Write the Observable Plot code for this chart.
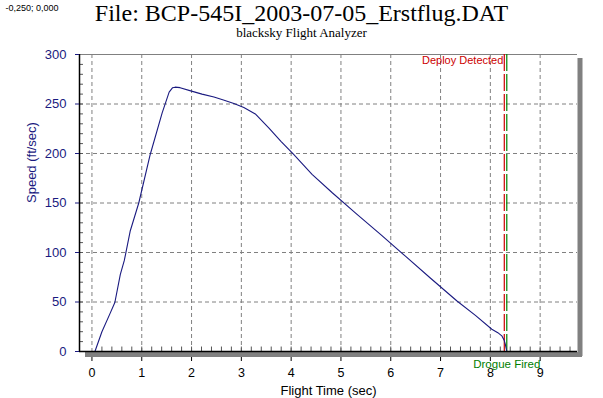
<!DOCTYPE html>
<html>
<head>
<meta charset="utf-8">
<script src="https://cdn.jsdelivr.net/npm/d3@7"></script>
<script src="https://cdn.jsdelivr.net/npm/@observablehq/plot@0.6"></script>
<style>
  html, body { margin: 0; padding: 0; background: #fff; }
  #chart { width: 603px; height: 398px; }
</style>
</head>
<body>
<div id="chart"></div>
<script>
// ---- Data ----
const titleText = "File: BCP-545I_2003-07-05_Erstflug.DAT";
const subtitleText = "blacksky Flight Analyzer";
const cornerText = "-0,250; 0,000";
const xLabel = "Flight Time (sec)";
const yLabel = "Speed (ft/sec)";

const flightTime = [0.06, 0.2, 0.36, 0.46, 0.57, 0.65, 0.77, 0.94, 1.17, 1.41, 1.55, 1.62, 1.67, 1.77, 2.0, 2.21, 2.45, 2.64, 2.85, 3.05, 3.28, 3.55, 3.8, 4.05, 4.42, 4.82, 5.3, 5.8, 6.3, 6.8, 7.33, 7.7, 8.03, 8.15, 8.23, 8.28, 8.3, 8.33];
const speed      = [0,    20,  38,   49.5, 78,   92,   122,  150,  199,  241,  262,  266.5,267,  266.5,263,  260,  257,  254,  250.5,246.5,240,  226,  212,  199,  179,  160.6,139.5,118,  96,   74,   51,   36.5, 22.5, 19,   15.8, 11,   7.5,  0];

const xTicks = [0, 1, 2, 3, 4, 5, 6, 7, 8, 9];
const yTicks = [0, 50, 100, 150, 200, 250, 300];
const yGrid = [50, 100, 150, 200, 250];
const xMinor = d3.range(1, 49).map(i => +(i * 0.2).toFixed(1));
const yMinor = d3.range(1, 30).map(i => i * 10);

const events = [
  {name: "Deploy Detected", t: 8.28, color: "#cc0000"},
  {name: "Drogue Fired",    t: 8.33, color: "#008000"}
];
const xDomain = [-0.25, 9.75];
const yDomain = [0, 300];

const data = flightTime.map((t, i) => ({t, v: speed[i]}));

const navy = "#1a1a80";
const gray = "#808080";
const serif = "'Liberation Serif', 'Times New Roman', serif";

const chart = Plot.plot({
  width: 603,
  height: 398,
  marginTop: 54,
  marginLeft: 79,
  marginRight: 26,
  marginBottom: 47,
  style: {fontFamily: "'Liberation Sans', Arial, sans-serif", background: "#fff"},
  x: {domain: xDomain},
  y: {domain: yDomain},
  marks: [
    // major tick marks below the x axis (partly hidden by the shadow)
    Plot.axisX({ticks: xTicks, tickSize: 10, text: null, stroke: "#000", label: null}),
    // shadows
    Plot.ruleX([xDomain[1]], {stroke: gray, strokeWidth: 5, dx: 2.5, insetTop: 4, insetBottom: -5}),
    Plot.ruleY([yDomain[0]], {stroke: gray, strokeWidth: 5, dy: 3, insetLeft: 6, insetRight: -5}),
    // grid
    Plot.ruleX(xTicks, {stroke: gray, strokeDasharray: "4,3", strokeWidth: 1}),
    Plot.ruleY(yGrid, {stroke: gray, strokeDasharray: "4,3", strokeWidth: 1}),
    // top border
    Plot.ruleY([yDomain[1]], {stroke: gray, strokeWidth: 1}),
    // minor ticks (inside)
    Plot.ruleX(xMinor, {y1: 0, y2: 4.5, stroke: "#555", strokeWidth: 1}),
    Plot.ruleY(yMinor, {x1: xDomain[0], x2: -0.17, stroke: "#555", strokeWidth: 1}),
    // event lines
    Plot.ruleX(events, {x: "t", stroke: "color", strokeDasharray: "17,3", strokeWidth: 1.2}),
    // curve
    Plot.line(data, {x: "t", y: "v", stroke: navy, strokeWidth: 1.1}),
    // axes lines
    Plot.ruleX([xDomain[0]], {stroke: "#000", strokeWidth: 1.5}),
    Plot.ruleY([yDomain[0]], {stroke: "#000", strokeWidth: 1.5}),
    // axes
    Plot.axisY({ticks: yTicks, tickSize: 4, tickPadding: 9, fontSize: 13, color: navy, label: null}),
    Plot.axisX({ticks: xTicks, tickSize: 0, tickPadding: 17, fontSize: 12.5, color: "#000", label: null}),
    // event labels
    Plot.text([events[0]], {x: "t", text: "name", fill: "color", frameAnchor: "top", textAnchor: "end", lineAnchor: "top", dy: 2, dx: -1, fontSize: 11}),
    Plot.text([events[1]], {x: "t", text: "name", fill: "color", frameAnchor: "bottom", lineAnchor: "top", dy: 8, fontSize: 11.5}),
    // axis titles
    Plot.text([yLabel], {frameAnchor: "left", rotate: -90, dx: -48, fill: navy, fontSize: 13}),
    Plot.text([xLabel], {frameAnchor: "bottom", lineAnchor: "bottom", dy: 43, fill: "#000", fontSize: 13}),
    // titles
    Plot.text([titleText], {frameAnchor: "top", lineAnchor: "bottom", dx: -27, dy: -34, fontFamily: serif, fontSize: 24, fill: "#000"}),
    Plot.text([subtitleText], {frameAnchor: "top", lineAnchor: "bottom", dx: -27, dy: -18, fontFamily: serif, fontSize: 13, fill: "#000"}),
    Plot.text([cornerText], {frameAnchor: "top-left", lineAnchor: "top", textAnchor: "start", dx: -74, dy: -50, fontSize: 9, fill: "#000"})
  ]
});
document.getElementById("chart").appendChild(chart);
</script>
</body>
</html>
